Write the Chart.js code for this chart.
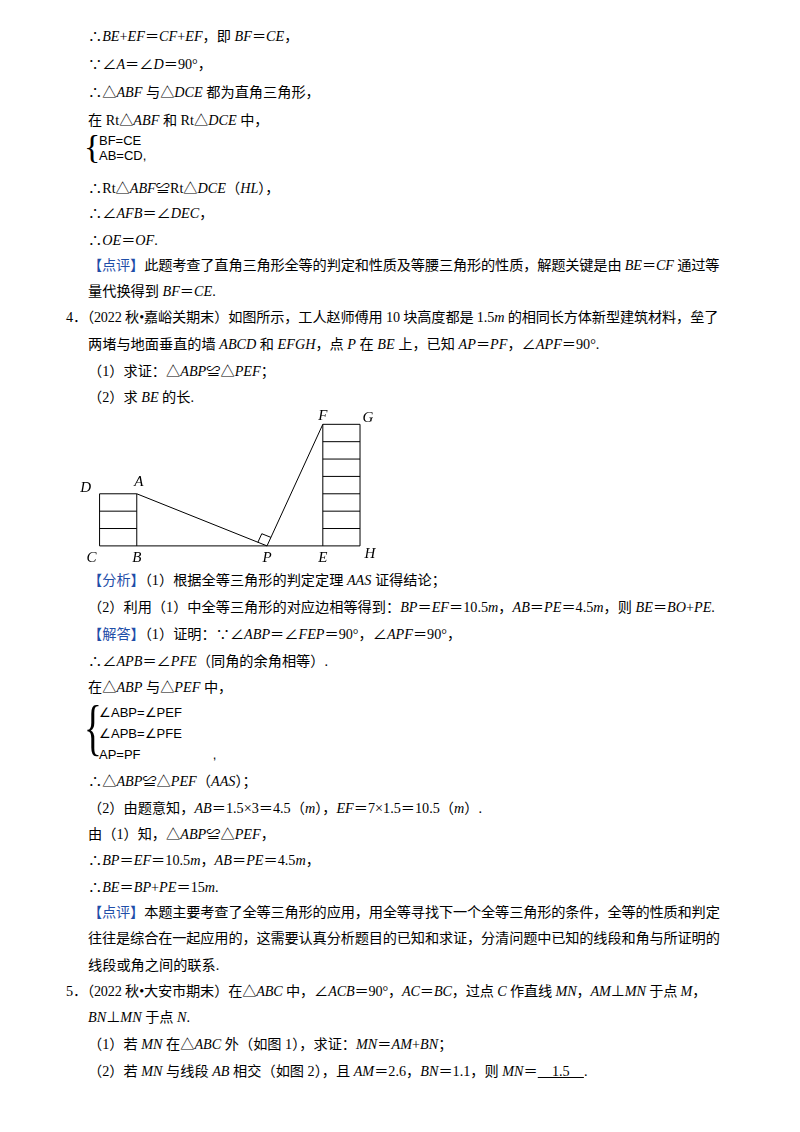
<!DOCTYPE html><html><head><meta charset="utf-8">
<script src="https://cdn.jsdelivr.net/npm/chart.js@4/dist/chart.umd.min.js"></script>
<style>
body{margin:0;width:800px;height:1132px;background:#fff;position:relative;font-family:"Liberation Serif","Noto Sans CJK SC",serif;font-size:14.2px;color:#000}
.l{position:absolute;white-space:nowrap;line-height:20px}
.j{letter-spacing:-0.15px}
i{font-style:italic}
.b{color:#1f4ea8}
.br{position:absolute;font-family:"Liberation Sans";font-size:13px;line-height:15px}
#wrap{position:absolute;left:76px;top:400px;width:320px;height:165px}
</style></head><body>
<div class="l" style="left:88px;top:26px">∴<i>BE</i>+<i>EF</i>＝<i>CF</i>+<i>EF</i>，即 <i>BF</i>＝<i>CE</i>，</div>
<div class="l" style="left:88px;top:54px">∵∠<i>A</i>＝∠<i>D</i>＝90°，</div>
<div class="l" style="left:88px;top:82px">∴△<i>ABF</i> 与△<i>DCE</i> 都为直角三角形，</div>
<div class="l" style="left:88px;top:110px">在 Rt△<i>ABF</i> 和 Rt△<i>DCE</i> 中，</div>
<div class="br" style="left:84px;top:130px;font-size:34px;line-height:34px;font-family:'Liberation Serif'">{</div>
<div class="br" style="left:99px;top:133px">BF=CE<br>AB=CD,</div>
<div class="l" style="left:88px;top:178px">∴Rt△<i>ABF</i>≌Rt△<i>DCE</i>（<i>HL</i>），</div>
<div class="l" style="left:88px;top:203px">∴∠<i>AFB</i>＝∠<i>DEC</i>，</div>
<div class="l" style="left:88px;top:230px">∴<i>OE</i>＝<i>OF</i>.</div>
<div class="l j" style="left:88px;top:255px"><span class="b">【点评】</span>此题考查了直角三角形全等的判定和性质及等腰三角形的性质，解题关键是由 <i>BE</i>＝<i>CF</i> 通过等</div>
<div class="l" style="left:88px;top:281px">量代换得到 <i>BF</i>＝<i>CE</i>.</div>
<div class="l j" style="left:66px;top:307px">4．（2022 秋•嘉峪关期末）如图所示，工人赵师傅用 10 块高度都是 1.5<i>m</i> 的相同长方体新型建筑材料，垒了</div>
<div class="l" style="left:88px;top:334px">两堵与地面垂直的墙 <i>ABCD</i> 和 <i>EFGH</i>，点 <i>P</i> 在 <i>BE</i> 上，已知 <i>AP</i>＝<i>PF</i>，∠<i>APF</i>＝90°.</div>
<div class="l" style="left:88px;top:361px">（1）求证：△<i>ABP</i>≌△<i>PEF</i>；</div>
<div class="l" style="left:88px;top:387px">（2）求 <i>BE</i> 的长.</div>
<div id="wrap"><canvas id="c"></canvas></div>
<div class="l" style="left:88px;top:570px"><span class="b">【分析】</span>（1）根据全等三角形的判定定理 <i>AAS</i> 证得结论；</div>
<div class="l" style="left:88px;top:597px">（2）利用（1）中全等三角形的对应边相等得到：<i>BP</i>＝<i>EF</i>＝10.5<i>m</i>，<i>AB</i>＝<i>PE</i>＝4.5<i>m</i>，则 <i>BE</i>＝<i>BO</i>+<i>PE</i>.</div>
<div class="l" style="left:88px;top:624px"><span class="b">【解答】</span>（1）证明：∵∠<i>ABP</i>＝∠<i>FEP</i>＝90°，∠<i>APF</i>＝90°，</div>
<div class="l" style="left:88px;top:651px">∴∠<i>APB</i>＝∠<i>PFE</i>（同角的余角相等）.</div>
<div class="l" style="left:88px;top:677px">在△<i>ABP</i> 与△<i>PEF</i> 中，</div>
<div class="br" style="left:84px;top:696px;font-size:62px;line-height:62px;font-family:'Liberation Serif';transform:scaleX(0.6);transform-origin:left">{</div>
<div class="br" style="left:99px;top:702px;line-height:21px">∠ABP=∠PEF<br>∠APB=∠PFE<br>AP=PF&nbsp;&nbsp;&nbsp;&nbsp;&nbsp;&nbsp;&nbsp;&nbsp;&nbsp;&nbsp;&nbsp;&nbsp;&nbsp;&nbsp;&nbsp;&nbsp;&nbsp;&nbsp;&nbsp;&nbsp;,</div>
<div class="l" style="left:88px;top:771px">∴△<i>ABP</i>≌△<i>PEF</i>（<i>AAS</i>）；</div>
<div class="l" style="left:88px;top:798px">（2）由题意知，<i>AB</i>＝1.5×3＝4.5（<i>m</i>），<i>EF</i>＝7×1.5＝10.5（<i>m</i>）.</div>
<div class="l" style="left:88px;top:824px">由（1）知，△<i>ABP</i>≌△<i>PEF</i>，</div>
<div class="l" style="left:88px;top:850px">∴<i>BP</i>＝<i>EF</i>＝10.5<i>m</i>，<i>AB</i>＝<i>PE</i>＝4.5<i>m</i>，</div>
<div class="l" style="left:88px;top:877px">∴<i>BE</i>＝<i>BP</i>+<i>PE</i>＝15<i>m</i>.</div>
<div class="l j" style="left:88px;top:902px"><span class="b">【点评】</span>本题主要考查了全等三角形的应用，用全等寻找下一个全等三角形的条件，全等的性质和判定</div>
<div class="l j" style="left:88px;top:928px">往往是综合在一起应用的，这需要认真分析题目的已知和求证，分清问题中已知的线段和角与所证明的</div>
<div class="l" style="left:88px;top:955px">线段或角之间的联系.</div>
<div class="l j" style="left:66px;top:981px">5．（2022 秋•大安市期末）在△<i>ABC</i> 中，∠<i>ACB</i>＝90°，<i>AC</i>＝<i>BC</i>，过点 <i>C</i> 作直线 <i>MN</i>，<i>AM</i>⊥<i>MN</i> 于点 <i>M</i>，</div>
<div class="l" style="left:88px;top:1007px"><i>BN</i>⊥<i>MN</i> 于点 <i>N</i>.</div>
<div class="l" style="left:88px;top:1034px">（1）若 <i>MN</i> 在△<i>ABC</i> 外（如图 1），求证：<i>MN</i>＝<i>AM</i>+<i>BN</i>；</div>
<div class="l" style="left:88px;top:1061px">（2）若 <i>MN</i> 与线段 <i>AB</i> 相交（如图 2），且 <i>AM</i>＝2.6，<i>BN</i>＝1.1，则 <i>MN</i>＝<u>&nbsp;&nbsp;&nbsp;&nbsp;1.5&nbsp;&nbsp;&nbsp;&nbsp;</u>.</div>
<script>
const leftWallX=[-3,0], rightWallX=[15,18];
const blockH=1.5, leftBlocks=3, rightBlocks=7;
const pointNames=['A','B','C','D','P','E','F','G','H'];
const pointX=[0,0,-3,-3,10.5,15,15,18,18];
const pointY=[4.5,0,0,4.5,0,0,10.5,10.5,0];
const ds=[];const L={borderColor:'#000',borderWidth:1,pointRadius:0,showLine:true,fill:false};
function seg(a,b){ds.push({...L,data:[a,b]});}
const P=n=>({x:pointX[pointNames.indexOf(n)],y:pointY[pointNames.indexOf(n)]});
seg({x:-3,y:0},{x:18,y:0});
for(let i=1;i<=leftBlocks;i++)seg({x:leftWallX[0],y:i*blockH},{x:leftWallX[1],y:i*blockH});
for(let i=1;i<=rightBlocks;i++)seg({x:rightWallX[0],y:i*blockH},{x:rightWallX[1],y:i*blockH});
[leftWallX[0],leftWallX[1]].forEach(x=>seg({x,y:0},{x,y:leftBlocks*blockH}));
[rightWallX[0],rightWallX[1]].forEach(x=>seg({x,y:0},{x,y:rightBlocks*blockH}));
seg(P('A'),P('P'));seg(P('P'),P('F'));
const ua=[(0-10.5),(4.5)],uf=[(15-10.5),10.5];
const na=Math.hypot(...ua),nf=Math.hypot(...uf),s=0.8;
const m1={x:10.5+ua[0]/na*s,y:ua[1]/na*s},m3={x:10.5+uf[0]/nf*s,y:uf[1]/nf*s};
const m2={x:m1.x+uf[0]/nf*s,y:m1.y+uf[1]/nf*s};
ds.push({...L,data:[m1,m2,m3]});
const labelOff={A:[2,-12],B:[0,12],C:[-8,12],D:[-14,-6],P:[0,12],E:[0,12],F:[0,-8],G:[8,-6],H:[10,8]};
const labels={id:'lab',afterDatasetsDraw(ch){const c=ch.ctx,x=ch.scales.x,y=ch.scales.y;c.save();c.font='italic 15px "Liberation Serif"';c.fillStyle='#000';c.textAlign='center';c.textBaseline='middle';
pointNames.forEach((n,i)=>{const o=labelOff[n];c.fillText(n,x.getPixelForValue(pointX[i])+o[0],y.getPixelForValue(pointY[i])+o[1]);});c.restore();}};
new Chart(document.getElementById('c'),{type:'scatter',data:{datasets:ds},plugins:[labels],
options:{responsive:true,maintainAspectRatio:false,animation:false,layout:{padding:0},
plugins:{legend:{display:false},tooltip:{enabled:false}},
scales:{x:{type:'linear',display:false,min:-4.9,max:20.9},y:{display:false,min:-1.65,max:12.6}}}});
</script></body></html>
